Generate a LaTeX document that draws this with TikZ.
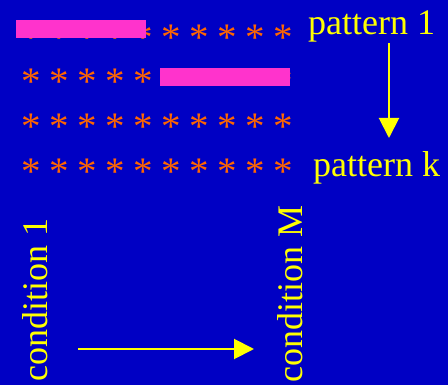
\documentclass[tikz,border=0pt]{standalone}
\usepackage{fontspec}
\setmainfont{Liberation Serif}
\usetikzlibrary{arrows.meta}
\definecolor{bgblue}{RGB}{0,0,196}
\definecolor{starorange}{RGB}{255,102,0}
\definecolor{barpink}{RGB}{255,51,204}
\definecolor{labelyellow}{RGB}{255,255,0}
\tikzset{
  label text/.style={text=labelyellow, inner sep=0pt, font=\fontsize{36}{40}\selectfont},
  star/.style={text=starorange, inner sep=0pt, anchor=base, font=\fontsize{39}{42}\selectfont},
  bar/.style={fill=barpink, draw=none},
  flow/.style={draw=labelyellow, line width=2pt, -{Triangle[length=20pt,width=20pt]}}
}
\begin{document}
\begin{tikzpicture}[x=1pt,y=-1pt]
  % background
  \fill[bgblue] (0,0) rectangle (448,385);
  \useasboundingbox (0,0) rectangle (448,385);

  % grid of asterisks: 4 patterns x 10 conditions
  \foreach \r [count=\ri] in {32.5,76.5,121.5,166.5} {
    \foreach \c [count=\ci] in {31,59,87,115,143,171,199,227,255,283} {
      \node[star] (s\ri-\ci) at (\c,\r+18.3) {*};
    }
  }

  % highlighted runs
  \fill[bar] (16,20) rectangle (146,38);
  \fill[bar] (160,68) rectangle (290,86);

  % pattern axis
  \node[label text, anchor=base west] (p1) at (308,35) {pattern 1};
  \node[label text, anchor=base west] (pk) at (313,177) {pattern k};
  \coordinate (pstart) at (389,43);
  \coordinate (pend) at (389,138);
  \draw[flow] (pstart) -- (pend);

  % condition axis
  \node[label text, anchor=base west, rotate=90] (c1) at (48,382) {condition 1};
  \node[label text, anchor=base west, rotate=90] (cM) at (302,383) {condition M};
  \coordinate (cstart) at (78,349);
  \coordinate (cend) at (254,349);
  \draw[flow] (cstart) -- (cend);
\end{tikzpicture}
\end{document}
